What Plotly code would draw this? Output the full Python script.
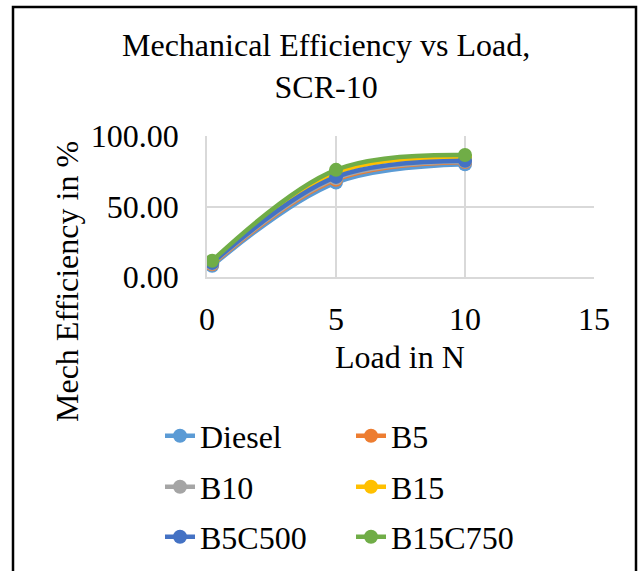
import plotly.graph_objects as go

load = [0.2, 5, 10]
series_names = ["Diesel", "B5", "B10", "B15", "B5C500", "B15C750"]
diesel = [8.0, 67.0, 80.0]
b5 = [9.0, 69.0, 81.5]
b10 = [9.5, 70.0, 82.0]
b15 = [11.0, 74.0, 85.0]
b5c500 = [10.0, 71.0, 82.5]
b15c750 = [11.5, 76.0, 86.5]
values = [diesel, b5, b10, b15, b5c500, b15c750]
colors = ["#5B9BD5", "#ED7D31", "#A5A5A5", "#FFC000", "#4472C4", "#70AD47"]
legend_ids = ["legend", "legend", "legend2", "legend2", "legend3", "legend3"]

FONT = "Liberation Serif"
FS = 32
W, H = 641, 571
L, R, T, B = 207, 47, 136, 294
pw, ph = W - L - R, H - T - B

def px_x(p):
    return (p - L) / pw

def px_y(p):
    return (H - B - p) / ph

fig = go.Figure()
for name, vals, col, lg in zip(series_names, values, colors, legend_ids):
    fig.add_trace(go.Scatter(
        x=load, y=vals, name=name, mode="lines+markers",
        line=dict(color=col, width=4.5, shape="spline", smoothing=1),
        marker=dict(color=col, size=14),
        legend=lg,
    ))

axis_common = dict(
    showgrid=True, gridcolor="#D9D9D9", gridwidth=1.5,
    zeroline=False, showline=True, linecolor="#D9D9D9", linewidth=1.5,
    tickfont=dict(family=FONT, size=FS, color="black"),
    ticks="outside", tickcolor="rgba(0,0,0,0)",
)
fig.update_xaxes(range=[0, 15], dtick=5, tick0=0, ticklen=13, **axis_common)
fig.update_yaxes(range=[0, 100], dtick=50, tick0=0, tickformat=".2f", ticklen=20, **axis_common)

legend_base = dict(
    orientation="h", xanchor="left", yanchor="middle",
    x=px_x(160), font=dict(family=FONT, size=FS, color="black"),
    entrywidth=146, entrywidthmode="pixels",
)
fig.update_layout(
    width=W, height=H,
    margin=dict(l=L, r=R, t=T, b=B, autoexpand=False),
    paper_bgcolor="white", plot_bgcolor="white",
    showlegend=True,
    legend=dict(y=px_y(436), **legend_base),
    legend2=dict(y=px_y(487), **legend_base),
    legend3=dict(y=px_y(537), **legend_base),
    annotations=[
        dict(text="Mechanical Efficiency vs Load,<br>SCR-10", x=px_x(326), y=px_y(66),
             xref="paper", yref="paper", showarrow=False, xanchor="center", yanchor="middle",
             font=dict(family=FONT, size=FS, color="black")),
        dict(text="Load in N", x=px_x(400), y=px_y(357),
             xref="paper", yref="paper", showarrow=False, xanchor="center", yanchor="middle",
             font=dict(family=FONT, size=FS, color="black")),
        dict(text="Mech Efficiency in %", x=px_x(67), y=px_y(282), textangle=-90,
             xref="paper", yref="paper", showarrow=False, xanchor="center", yanchor="middle",
             font=dict(family=FONT, size=FS, color="black")),
    ],
    shapes=[
        dict(type="rect", xref="paper", yref="paper",
             x0=px_x(13), x1=px_x(636), y0=px_y(7), y1=px_y(580),
             line=dict(color="black", width=2.5), layer="below"),
    ],
)

fig.write_html("out.html")
